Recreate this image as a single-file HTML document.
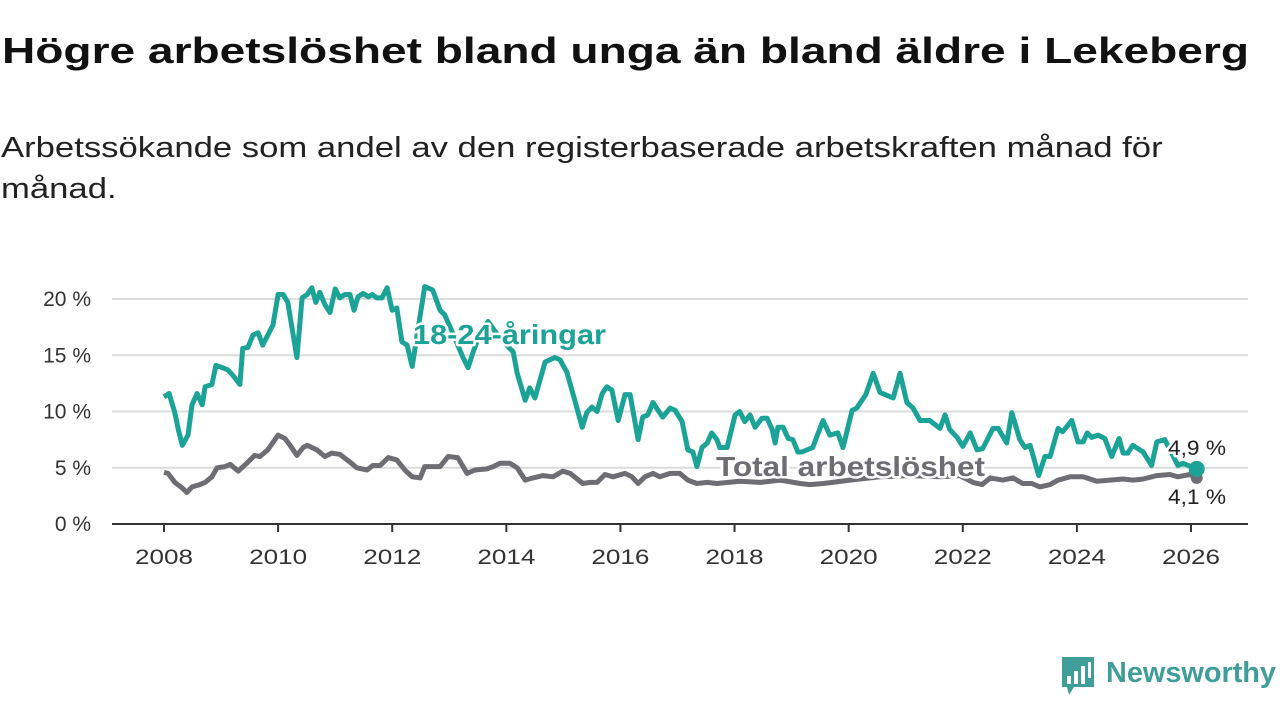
<!DOCTYPE html>
<html><head><meta charset="utf-8">
<style>
html,body{margin:0;padding:0;background:#fff;width:1280px;height:720px;overflow:hidden;font-family:"Liberation Sans",sans-serif;}
#title{position:absolute;left:2px;top:30px;font-size:36px;font-weight:bold;color:#111;white-space:nowrap;transform:scaleX(1.28);transform-origin:0 0}
#subtitle{position:absolute;left:1px;top:128px;font-size:29px;line-height:41px;color:#222;width:1000px;white-space:nowrap;transform:scaleX(1.195);transform-origin:0 0}
svg{position:absolute;left:0;top:0}
</style></head><body>
<div id="title">Högre arbetslöshet bland unga än bland äldre i Lekeberg</div>
<div id="subtitle">Arbetssökande som andel av den registerbaserade arbetskraften månad för<br>månad.</div>
<svg id="chart" width="1280" height="720"></svg>
<script>
const yTicks=[0,5,10,15,20];
const yTickLabels=["0 %","5 %","10 %","15 %","20 %"];
const xTicks=[2008,2010,2012,2014,2016,2018,2020,2022,2024,2026];
const youthDates=[2008.00,2008.09,2008.19,2008.25,2008.32,2008.42,2008.49,2008.58,2008.67,2008.72,2008.84,2008.91,2009.02,2009.12,2009.21,2009.33,2009.38,2009.47,2009.56,2009.65,2009.73,2009.82,2009.91,2010.00,2010.09,2010.17,2010.33,2010.42,2010.51,2010.59,2010.66,2010.73,2010.82,2010.91,2011.00,2011.08,2011.17,2011.26,2011.33,2011.40,2011.49,2011.58,2011.65,2011.73,2011.82,2011.91,2012.00,2012.08,2012.17,2012.26,2012.35,2012.40,2012.57,2012.71,2012.84,2012.92,2013.10,2013.24,2013.33,2013.42,2013.54,2013.68,2013.89,2014.12,2014.19,2014.33,2014.41,2014.50,2014.68,2014.85,2014.94,2015.06,2015.20,2015.33,2015.41,2015.50,2015.59,2015.68,2015.76,2015.85,2015.96,2016.08,2016.17,2016.31,2016.39,2016.48,2016.57,2016.66,2016.74,2016.87,2016.96,2017.08,2017.18,2017.27,2017.34,2017.43,2017.52,2017.60,2017.69,2017.74,2017.87,2018.01,2018.09,2018.18,2018.27,2018.36,2018.48,2018.57,2018.66,2018.71,2018.76,2018.85,2018.94,2019.02,2019.11,2019.18,2019.37,2019.55,2019.67,2019.81,2019.90,2020.06,2020.14,2020.30,2020.43,2020.55,2020.78,2020.90,2021.02,2021.13,2021.25,2021.42,2021.60,2021.69,2021.77,2021.90,2022.00,2022.13,2022.25,2022.35,2022.53,2022.62,2022.77,2022.86,2023.00,2023.09,2023.18,2023.33,2023.44,2023.53,2023.67,2023.75,2023.91,2024.02,2024.11,2024.18,2024.26,2024.37,2024.49,2024.61,2024.74,2024.81,2024.89,2024.98,2025.16,2025.31,2025.40,2025.54,2025.77,2025.86,2026.10];
const youthValues=[11.3,11.6,9.9,8.4,7.0,7.9,10.6,11.6,10.6,12.2,12.4,14.1,13.9,13.7,13.2,12.4,15.6,15.7,16.8,17.0,15.9,16.8,17.7,20.4,20.4,19.7,14.8,20.1,20.4,21.0,19.7,20.6,19.5,18.8,20.9,20.1,20.4,20.4,19.0,20.2,20.5,20.2,20.4,20.1,20.1,21.0,19.0,19.2,16.2,15.9,14.0,15.6,21.1,20.8,19.0,18.6,16.5,14.8,13.9,15.3,17.0,18.0,16.5,15.3,13.4,11.0,12.1,11.2,14.4,14.8,14.6,13.5,11.0,8.6,9.9,10.4,10.0,11.6,12.2,11.9,9.2,11.5,11.5,7.5,9.5,9.7,10.8,10.1,9.5,10.3,10.1,9.1,6.6,6.4,5.1,6.8,7.2,8.1,7.5,6.8,6.8,9.7,10.0,9.1,9.7,8.6,9.4,9.4,8.4,7.2,8.6,8.6,7.6,7.5,6.4,6.4,6.8,9.2,7.9,8.1,6.8,10.1,10.3,11.5,13.4,11.7,11.2,13.4,10.8,10.3,9.2,9.2,8.5,9.7,8.4,7.7,6.9,8.1,6.6,6.7,8.5,8.5,7.2,9.9,7.5,6.8,7.0,4.3,6.0,6.0,8.5,8.2,9.2,7.3,7.3,8.1,7.7,7.9,7.6,6.0,7.6,6.3,6.3,7.0,6.4,5.2,7.3,7.5,5.2,5.4,4.9];
const totalDates=[2008.00,2008.07,2008.19,2008.32,2008.40,2008.49,2008.63,2008.72,2008.84,2008.93,2009.07,2009.16,2009.30,2009.45,2009.59,2009.68,2009.82,2010.00,2010.12,2010.21,2010.33,2010.44,2010.51,2010.68,2010.82,2010.94,2011.08,2011.26,2011.38,2011.56,2011.66,2011.79,2011.93,2012.08,2012.22,2012.35,2012.49,2012.57,2012.71,2012.84,2012.98,2013.15,2013.31,2013.45,2013.66,2013.77,2013.89,2014.06,2014.19,2014.33,2014.47,2014.64,2014.82,2014.99,2015.12,2015.34,2015.47,2015.59,2015.73,2015.87,2016.08,2016.20,2016.31,2016.43,2016.57,2016.69,2016.87,2017.04,2017.18,2017.34,2017.52,2017.69,2018.09,2018.45,2018.80,2019.15,2019.32,2019.55,2019.72,2020.02,2020.55,2021.07,2021.60,2021.95,2022.18,2022.34,2022.48,2022.70,2022.88,2023.05,2023.21,2023.35,2023.53,2023.67,2023.88,2024.11,2024.35,2024.58,2024.81,2024.98,2025.16,2025.40,2025.63,2025.77,2025.98,2026.10];
const totalValues=[4.6,4.5,3.7,3.2,2.8,3.3,3.5,3.7,4.2,5.0,5.1,5.3,4.7,5.4,6.1,6.0,6.6,7.9,7.6,7.0,6.1,6.8,7.0,6.6,6.0,6.3,6.2,5.5,5.0,4.8,5.2,5.2,5.9,5.7,4.8,4.2,4.1,5.1,5.1,5.1,6.0,5.9,4.5,4.8,4.9,5.1,5.4,5.4,5.0,3.9,4.1,4.3,4.2,4.7,4.5,3.6,3.7,3.7,4.4,4.2,4.5,4.2,3.6,4.2,4.5,4.2,4.5,4.5,3.9,3.6,3.7,3.6,3.8,3.7,3.9,3.6,3.5,3.6,3.7,3.9,4.2,4.3,4.2,4.3,3.7,3.5,4.1,3.9,4.1,3.6,3.6,3.3,3.5,3.9,4.2,4.2,3.8,3.9,4.0,3.9,4.0,4.3,4.4,4.2,4.4,4.1];

const svg=document.getElementById('chart');
const NS='http://www.w3.org/2000/svg';
const X0=112,X1=1248;
function xs(y){return 164+(y-2008)*(1191-164)/18;}
function ys(v){return 524-v*(524-299)/20;}
function mk(tag,attrs,parent){const e=document.createElementNS(NS,tag);for(const k in attrs)e.setAttribute(k,attrs[k]);(parent||svg).appendChild(e);return e;}

yTicks.forEach((t,i)=>{
  if(t>0){const g=mk('line',{x1:X0,x2:X1,y1:ys(t),y2:ys(t),stroke:'#dcdcdc','stroke-width':2});
  
  }
  const l=mk('text',{x:91,y:ys(t)+7,'text-anchor':'end','font-size':21,fill:'#333'});
  l.textContent=yTickLabels[i];
  
  
});
const ax=mk('line',{x1:X0,x2:X1,y1:524,y2:524,stroke:'#333','stroke-width':2});


xTicks.forEach(t=>{
  const tk=mk('line',{x1:xs(t),x2:xs(t),y1:524,y2:532,stroke:'#333','stroke-width':2});
  
  
  const l=mk('text',{x:xs(t)-29,y:564,'font-size':21,fill:'#333',textLength:58,lengthAdjust:'spacingAndGlyphs'});
  l.textContent=t;
  
  
});
function path(dates,vals){return dates.map((d,i)=>(i?'L':'M')+xs(d).toFixed(1)+','+ys(vals[i]).toFixed(1)).join('');}
const tl=mk('path',{d:path(totalDates,totalValues),fill:'none',stroke:'#6e6d73','stroke-width':5,'stroke-linejoin':'round'});


const yl=mk('path',{d:path(youthDates,youthValues),fill:'none',stroke:'#1aa396','stroke-width':5,'stroke-linejoin':'round'});


const td=mk('circle',{cx:xs(totalDates[totalDates.length-1]),cy:ys(totalValues[totalValues.length-1]),r:6,fill:'#6e6d73'});


const yd=mk('circle',{cx:xs(youthDates[youthDates.length-1]),cy:ys(youthValues[youthValues.length-1]),r:8,fill:'#1aa396'});


function label(txt,x,y,size,weight,color,name,len){
  const t=mk('text',{x:x,y:y,'font-size':size,'font-weight':weight,fill:color,stroke:'#fff','stroke-width':5,'paint-order':'stroke','stroke-linejoin':'round',textLength:len,lengthAdjust:'spacingAndGlyphs'});
  t.textContent=txt;
  
  
}
label('18-24-åringar',413,344,28,'bold','#1aa396','youth-series-label',193);
label('Total arbetslöshet',716,476,28,'bold','#6e6d73','total-series-label',269);
label('4,9 %',1168,455,21,'normal','#222','youth-end-value',58);
label('4,1 %',1168,504,21,'normal','#222','total-end-value',58);
</script>
<svg width="1280" height="720" style="pointer-events:none">
  <path d="M1062,657 h32 v30 h-20 l-5,8 l-2,-8 h-5 z" fill="#3f9e9a"/>
  <rect x="1067" y="676" width="4" height="8" fill="#fff"/>
  <rect x="1074" y="671" width="4" height="13" fill="#fff"/>
  <rect x="1081" y="666" width="4" height="18" fill="#fff"/>
  <rect x="1088" y="662" width="3" height="16" fill="#fff"/>
  <text x="1106" y="682" font-size="29" font-weight="bold" fill="#3f9e9a" font-family="Liberation Sans, sans-serif" textLength="170" lengthAdjust="spacingAndGlyphs">Newsworthy</text>
</svg>
</body></html>
